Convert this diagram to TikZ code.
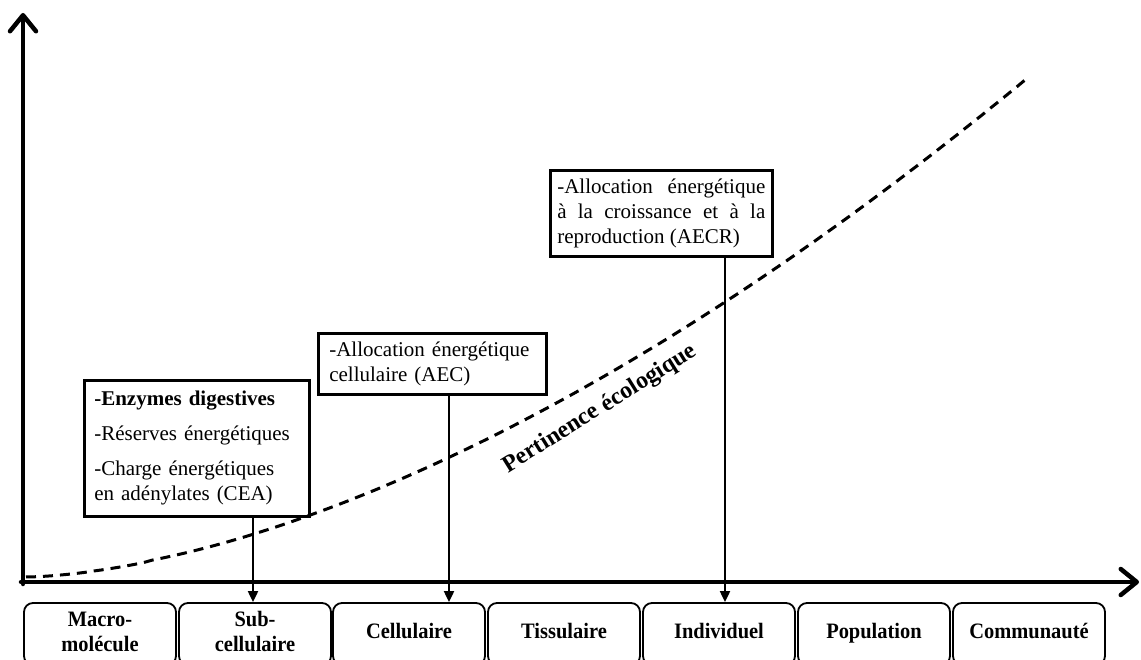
\documentclass[tikz,border=0pt]{standalone}
\usepackage{fontspec}
\setmainfont{Liberation Serif}
\newfontfamily\levelfont[FakeStretch=0.93]{Liberation Serif Bold}
\usetikzlibrary{arrows.meta,calc}

\begin{document}
\begin{tikzpicture}[x=1pt,y=-1pt,
  infobox/.style={draw, line width=2.6pt, anchor=north west, inner ysep=0pt,
    font=\fontsize{21}{25}\selectfont},
  level/.style={draw, line width=1.8pt, rounded corners=9pt, minimum width=152pt,
    minimum height=62pt, inner sep=0pt, align=center,
    font=\levelfont\fontsize{22}{24.5}\selectfont},
  axis/.style={line width=4.5pt, line cap=round,
    -{Straight Barb[length=16pt,width=26pt,line cap=round,line join=round]}},
  pointer/.style={line width=2pt, -{Triangle[length=11pt,width=10pt]}},
  relevance/.style={line width=3pt, dash pattern=on 10pt off 7pt},
]
% page frame
\clip (0,0) rectangle (1141,660);

% axes
\coordinate (O) at (23,582);
\coordinate (Ytop) at (23,13);
\coordinate (Xend) at (1139,582);
\draw[axis] ($(O)+(0,2)$) -- (Ytop);
\draw[axis] ($(O)+(-2,0)$) -- (Xend);

% ecological relevance curve
\draw[relevance] plot[domain=0.001:1, samples=120, smooth]
  ({25+1000*\x}, {577-497*(\x)^1.66});
\node[rotate=32, anchor=base, font=\bfseries\fontsize{24}{24}\selectfont]
  (pert) at (603,414) {Pertinence écologique};

% levels of organisation (struts keep the baselines aligned)
\node[level] (macro) at (100,634) {Macro-\strut\\molécule\strut};
\node[level] (sub)   at (255,634) {Sub-\strut\\cellulaire\strut};
\node[level] (cell)  at (409,634) {Cellulaire\strut};
\node[level] (tiss)  at (564,634) {Tissulaire\strut};
\node[level] (indiv) at (719,634) {Individuel\strut};
\node[level] (popu)  at (874,634) {Population\strut};
\node[level] (comm)  at (1029,634) {Communauté\strut};

% biomarker boxes
\node[infobox, inner xsep=10pt, text width=205pt, minimum height=136pt, align=left]
  (b1) at (83,379)
  {\textbf{-Enzymes digestives}\\[10pt]
   -Réserves énergétiques\\[10pt]
   -Charge énergétiques\\
   en adénylates (CEA)};
\node[infobox, inner xsep=11pt, text width=206pt, minimum height=61pt, align=left]
  (b2) at (317,332)
  {-Allocation énergétique\\
   cellulaire (AEC)};
\node[infobox, inner xsep=7pt, text width=208pt, minimum height=86pt, align=justify]
  (b3) at (549,169)
  {-Allocation énergétique\linebreak
   à la croissance et à la\linebreak
   reproduction (AECR)};

% pointers to the levels
\coordinate (x1) at (253,0);
\coordinate (x2) at (449,0);
\coordinate (x3) at (725,0);
\draw[pointer] (b1.south -| x1) -- (sub.north -| x1);
\draw[pointer] (b2.south -| x2) -- (cell.north -| x2);
\draw[pointer] (b3.south -| x3) -- (indiv.north -| x3);
\end{tikzpicture}
\end{document}
